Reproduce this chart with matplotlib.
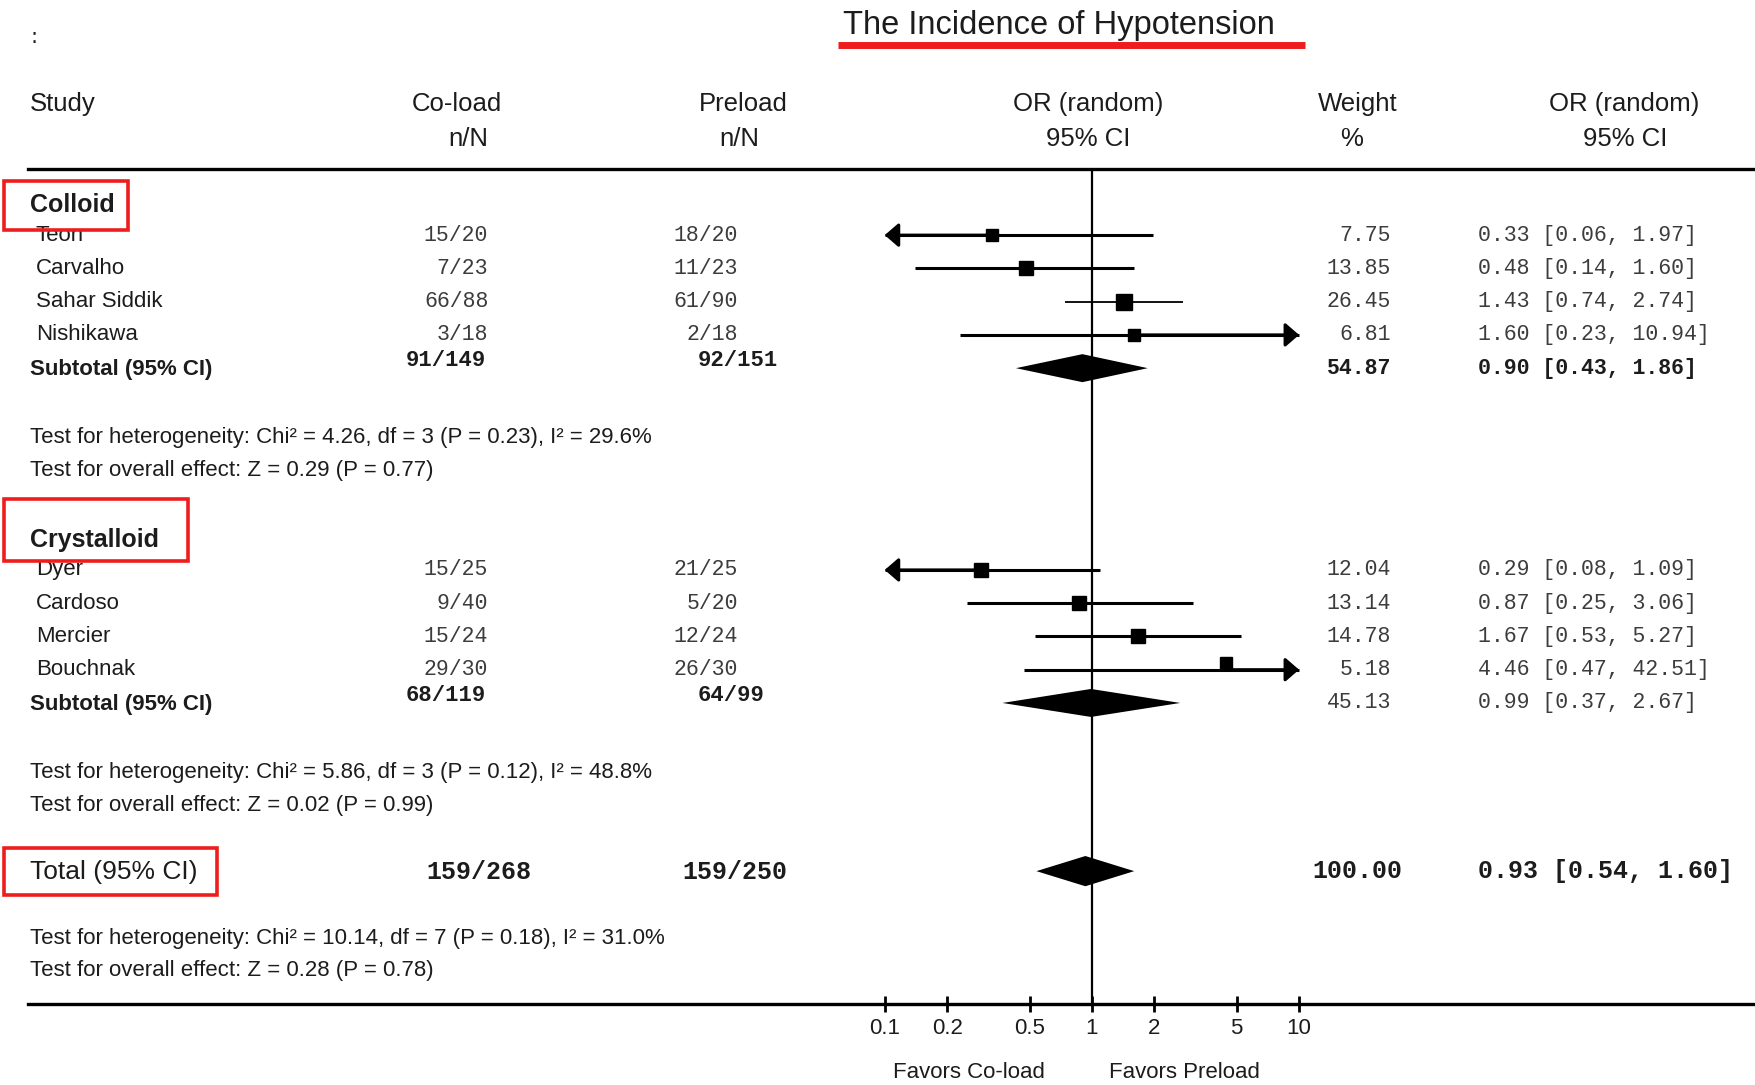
import matplotlib.pyplot as plt
import numpy as np

# Colloid studies
colloid_names = ['Teon', 'Carvalho', 'Sahar Siddik', 'Nishikawa']
colloid_coload = ['15/20', '7/23', '66/88', '3/18']
colloid_preload = ['18/20', '11/23', '61/90', '2/18']
colloid_weight = [7.75, 13.85, 26.45, 6.81]
colloid_or = [0.33, 0.48, 1.43, 1.60]
colloid_lo = [0.06, 0.14, 0.74, 0.23]
colloid_hi = [1.97, 1.60, 2.74, 10.94]
colloid_sub = ['91/149', '92/151', 54.87, 0.90, 0.43, 1.86]
colloid_het = ['Test for heterogeneity: Chi² = 4.26, df = 3 (P = 0.23), I² = 29.6%',
               'Test for overall effect: Z = 0.29 (P = 0.77)']

# Crystalloid studies
cryst_names = ['Dyer', 'Cardoso', 'Mercier', 'Bouchnak']
cryst_coload = ['15/25', '9/40', '15/24', '29/30']
cryst_preload = ['21/25', '5/20', '12/24', '26/30']
cryst_weight = [12.04, 13.14, 14.78, 5.18]
cryst_or = [0.29, 0.87, 1.67, 4.46]
cryst_lo = [0.08, 0.25, 0.53, 0.47]
cryst_hi = [1.09, 3.06, 5.27, 42.51]
cryst_sub = ['68/119', '64/99', 45.13, 0.99, 0.37, 2.67]
cryst_het = ['Test for heterogeneity: Chi² = 5.86, df = 3 (P = 0.12), I² = 48.8%',
             'Test for overall effect: Z = 0.02 (P = 0.99)']

# Overall
total = ['159/268', '159/250', 100.00, 0.93, 0.54, 1.60]
total_het = ['Test for heterogeneity: Chi² = 10.14, df = 7 (P = 0.18), I² = 31.0%',
             'Test for overall effect: Z = 0.28 (P = 0.78)']

ticks = [0.1, 0.2, 0.5, 1, 2, 5, 10]
tick_labels = ['0.1', '0.2', '0.5', '1', '2', '5', '10']

# layout (page units, 1568 x 969)
W, H = 1568, 969
SANS = ['Liberation Sans', 'DejaVu Sans']
MONO = ['Liberation Mono', 'DejaVu Sans Mono']
TXT = '#1c1c1c'
NUM = '#3c3c3c'
RED = '#ee1c1c'
fs_head, fs_row, fs_num = 18.5, 16, 15.5
step = 29.7
xmin, xmax = 0.1, 10

fig = plt.figure(figsize=(17.56, 10.85), dpi=100)
ax = fig.add_axes([0, 0, 1, 1])
ax.set_xlim(0, W)
ax.set_ylim(H, 0)
ax.axis('off')

# forest panel on a log scale, sharing the vertical page units
fx = fig.add_axes([790 / W, 0, (1160 - 790) / W, 1])
fx.set_xscale('log')
fx.set_xlim(xmin, xmax)
fx.set_ylim(H, 0)
fx.patch.set_alpha(0)
for s in ['top', 'left', 'right']:
    fx.spines[s].set_visible(False)
fx.spines['bottom'].set_position(('data', 897))
fx.spines['bottom'].set_linewidth(2.2)
fx.set_yticks([])
fx.set_xticks(ticks)
fx.set_xticklabels(tick_labels)
fx.minorticks_off()
fx.tick_params(axis='x', direction='inout', length=12, width=2, pad=4,
               labelsize=fs_row, labelcolor=TXT)
for lab in fx.get_xticklabels():
    lab.set_family(SANS)

# title
ax.text(946, 23, 'The Incidence of Hypotension', ha='center', va='center',
        fontsize=23.5, family=SANS, color=TXT)
ax.plot([748, 1165], [40, 40], color=RED, lw=5, solid_capstyle='butt')
ax.text(30, 33, ':', ha='center', va='center', fontsize=15, color=TXT)

# column headers
hdr = dict(va='center', fontsize=fs_head, family=SANS, color=TXT)
ax.text(27, 93, 'Study', ha='left', **hdr)
ax.text(408, 93, 'Co-load', ha='center', **hdr)
ax.text(436, 124, 'n/N', ha='right', **hdr)
ax.text(664, 93, 'Preload', ha='center', **hdr)
ax.text(678, 124, 'n/N', ha='right', **hdr)
ax.text(972, 93, 'OR (random)', ha='center', **hdr)
ax.text(972, 124, '95% CI', ha='center', **hdr)
ax.text(1212, 93, 'Weight', ha='center', **hdr)
ax.text(1207, 124, '%', ha='center', **hdr)
ax.text(1450, 93, 'OR (random)', ha='center', **hdr)
ax.text(1451, 124, '95% CI', ha='center', **hdr)

# horizontal rules
ax.plot([25, W], [151, 151], color='k', lw=2.4)
ax.plot([25, W], [897, 897], color='k', lw=2.4)

# line of no effect
fx.vlines(1, 152, 897, color='k', lw=1.6)


def ci_text(est, lo, hi):
    return f'{est:.2f} [{lo:.2f}, {hi:.2f}]'


def arrow_to(end, est, y):
    # CI runs off the scale: finish it with an arrowhead at the axis limit
    fx.annotate('', xy=(end, y), xytext=(est, y),
                arrowprops=dict(arrowstyle='-|>,head_length=0.3,head_width=0.26',
                                color='k', lw=2.2, mutation_scale=28,
                                shrinkA=0, shrinkB=0),
                annotation_clip=False)


def draw_study(y, est, lo, hi, w, lw=2.2, dy=0):
    lo_c, hi_c = max(lo, xmin), min(hi, xmax)
    fx.plot([lo_c, hi_c], [y, y], color='k', lw=lw, solid_capstyle='butt', clip_on=False)
    if lo < xmin:
        arrow_to(xmin, est, y)
    if hi > xmax:
        arrow_to(xmax, est, y)
    fx.plot(est, y + dy, marker='s', color='k', ms=8 + 0.12 * w, clip_on=False)


def draw_diamond(y, est, lo, hi, h=12.5):
    fx.fill([lo, est, hi, est], [y, y - h, y, y + h], color='k', lw=0, clip_on=False)


def draw_group(label, box, y_label, y0, names, coload, preload, weight, est, lo, hi,
               sub, het, y_het, sub_bold, lws=None, dys=None):
    ax.text(27, y_label, label, ha='left', va='center', fontsize=18,
            family=SANS, weight='bold', color=TXT, zorder=1)
    bx0, by0, bx1, by1 = box
    ax.add_patch(plt.Rectangle((bx0, by0), bx1 - bx0, by1 - by0, fill=False,
                               ec=RED, lw=2.6, zorder=5))
    for i, name in enumerate(names):
        y = y0 + i * step
        ax.text(32, y, name, ha='left', va='center', fontsize=fs_row, family=SANS, color=TXT)
        ax.text(436, y, coload[i], ha='right', va='center', fontsize=fs_num, family=MONO, color=NUM)
        ax.text(659, y, preload[i], ha='right', va='center', fontsize=fs_num, family=MONO, color=NUM)
        ax.text(1242, y, f'{weight[i]:.2f}', ha='right', va='center', fontsize=fs_num,
                family=MONO, color=NUM)
        ax.text(1320, y, ci_text(est[i], lo[i], hi[i]), ha='left', va='center',
                fontsize=fs_num, family=MONO, color=NUM)
        draw_study(y, est[i], lo[i], hi[i], weight[i],
                   lw=lws[i] if lws else 2.2, dy=dys[i] if dys else 0)

    # subtotal row
    ys = y0 + len(names) * step
    ax.text(27, ys + 1, 'Subtotal (95% CI)', ha='left', va='center', fontsize=fs_row,
            family=SANS, weight='bold', color=TXT)
    ax.text(434, ys - 7, sub[0], ha='right', va='center', fontsize=16, family=MONO,
            weight='bold', color=TXT)
    ax.text(623, ys - 7, sub[1], ha='left', va='center', fontsize=16, family=MONO,
            weight='bold', color=TXT)
    sw = 'bold' if sub_bold else 'normal'
    sc = TXT if sub_bold else NUM
    ax.text(1242, ys, f'{sub[2]:.2f}', ha='right', va='center', fontsize=fs_num,
            family=MONO, weight=sw, color=sc)
    ax.text(1320, ys, ci_text(sub[3], sub[4], sub[5]), ha='left', va='center',
            fontsize=fs_num, family=MONO, weight=sw, color=sc)
    draw_diamond(ys, sub[3], sub[4], sub[5])

    for k, line in enumerate(het):
        ax.text(27, y_het + k * 29, line, ha='left', va='center', fontsize=fs_row,
                family=SANS, color=TXT)


draw_group('Colloid', (4, 162, 114, 205), 183, 210,
           colloid_names, colloid_coload, colloid_preload, colloid_weight,
           colloid_or, colloid_lo, colloid_hi, colloid_sub, colloid_het, 391,
           sub_bold=True, lws=[2.2, 2.2, 1.3, 2.2])

draw_group('Crystalloid', (4, 446, 168, 501), 482, 509,
           cryst_names, cryst_coload, cryst_preload, cryst_weight,
           cryst_or, cryst_lo, cryst_hi, cryst_sub, cryst_het, 690,
           sub_bold=False, dys=[0, 0, 0, -6])

# overall total
ax.text(27, 779, 'Total (95% CI)', ha='left', va='center', fontsize=19,
        family=SANS, color=TXT)
ax.add_patch(plt.Rectangle((4, 757), 190, 42, fill=False, ec=RED, lw=2.6, zorder=5))
tot = dict(va='center', fontsize=18, family=MONO, weight='bold', color=TXT)
ax.text(428, 779, total[0], ha='center', **tot)
ax.text(656, 779, total[1], ha='center', **tot)
ax.text(1252, 778, f'{total[2]:.2f}', ha='right', **tot)
ax.text(1320, 778, ci_text(total[3], total[4], total[5]), ha='left', **tot)
draw_diamond(778, total[3], total[4], total[5], h=13.5)
for k, line in enumerate(total_het):
    ax.text(27, 838 + k * 29, line, ha='left', va='center', fontsize=fs_row,
            family=SANS, color=TXT)

# direction labels
ax.text(865, 958, 'Favors Co-load', ha='center', va='center', fontsize=fs_row,
        family=SANS, color=TXT)
ax.text(1058, 958, 'Favors Preload', ha='center', va='center', fontsize=fs_row,
        family=SANS, color=TXT)

fig.savefig('out.png', dpi=100)
